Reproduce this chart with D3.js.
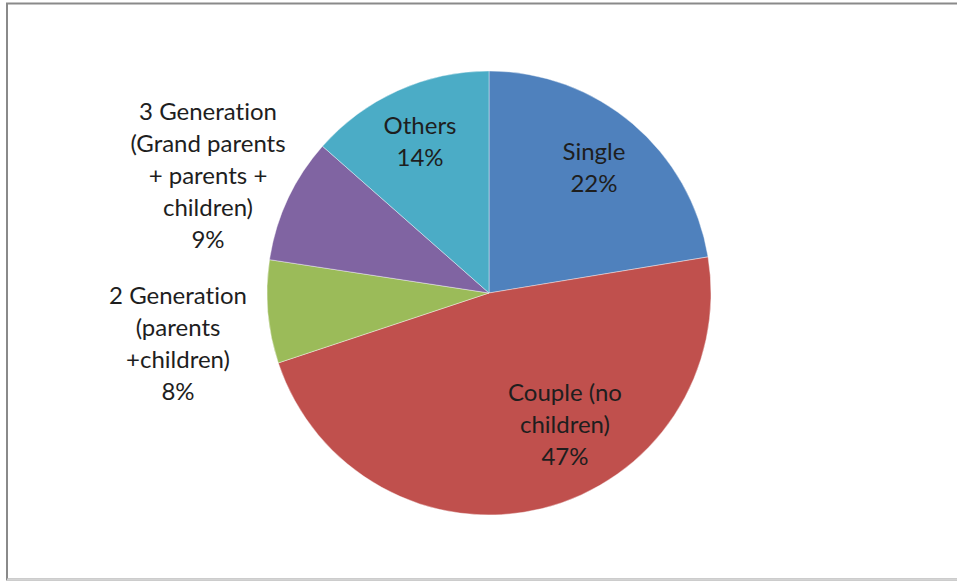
<!DOCTYPE html>
<html>
<head>
<meta charset="utf-8">
<script src="https://cdn.jsdelivr.net/npm/d3@7"></script>
<style>
  html, body { margin: 0; padding: 0; background: #fff; }
  svg { display: block; }
  text { font-variant-ligatures: none; }
</style>
</head>
<body>
<svg id="chart" width="957" height="581"></svg>
<script>
// ---- data ----
const categories = ["Single", "Couple (no children)", "2 Generation (parents +children)", "3 Generation (Grand parents + parents + children)", "Others"];
const values = [22.4, 47.5, 7.5, 9.1, 13.5];
const percentLabels = ["22%", "47%", "8%", "9%", "14%"];
const labelLines = [
  ["Single"],
  ["Couple (no", "children)"],
  ["2 Generation", "(parents", "+children)"],
  ["3 Generation", "(Grand parents", "+ parents +", "children)"],
  ["Others"]
];
const colors = ["#4F81BD", "#C0504D", "#9BBB59", "#8064A2", "#4BACC6"];

// ---- layout ----
const W = 957, H = 581;
const cx = 489, cy = 293, R = 222;
const svg = d3.select("#chart");

// frame
svg.append("rect").attr("x", 7).attr("y", 3.5).attr("width", W + 10).attr("height", 576)
  .attr("fill", "#fff").attr("stroke", "#8a8a8a").attr("stroke-width", 2);
svg.append("line").attr("x1", 7).attr("x2", W).attr("y1", 579.5).attr("y2", 579.5)
  .attr("stroke", "#d4d4d4").attr("stroke-width", 2);

const data = categories.map((c, i) => ({ name: c, value: values[i], color: colors[i], lines: labelLines[i].concat([percentLabels[i]]) }));

const pie = d3.pie().value(d => d.value).sort(null);
const arc = d3.arc().innerRadius(0).outerRadius(R);
const arcs = pie(data);

const g = svg.append("g").attr("transform", `translate(${cx},${cy})`);
g.selectAll("path").data(arcs).join("path")
  .attr("d", arc)
  .attr("fill", d => d.data.color)
  .attr("stroke", "rgba(255,255,255,0.5)")
  .attr("stroke-width", 0.8);

// label anchor positions (relative to pie center), by slice
const labelAnchor = [
  [105, -125],   // Single
  [76, 132],     // Couple
  [-311, 51],    // 2 Generation (outside)
  [-281, -117],  // 3 Generation (outside)
  [-69, -151]    // Others
];
const lineH = 32;
const fontSize = 24;

arcs.forEach((a, i) => {
  const lines = a.data.lines;
  const [ax, ay] = labelAnchor[i];
  const t = g.append("text")
    .attr("text-anchor", "middle")
    .attr("font-family", "Lato, 'Open Sans', sans-serif")
    .attr("font-size", fontSize)
    .attr("fill", "#1e1e1e");
  const y0 = ay - (lines.length - 1) * lineH / 2;
  lines.forEach((ln, k) => {
    t.append("tspan").attr("x", ax).attr("y", y0 + k * lineH).attr("dy", "0.35em").text(ln);
  });
});
</script>
</body>
</html>
